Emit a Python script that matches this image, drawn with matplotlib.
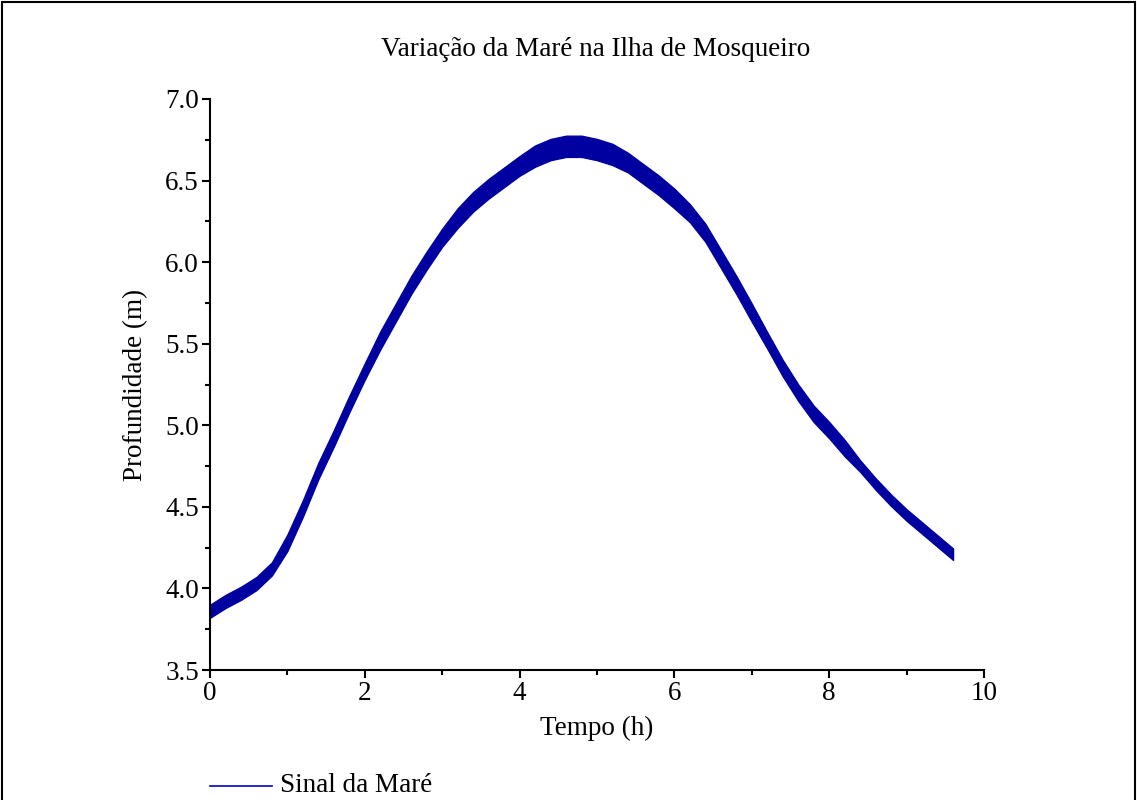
import matplotlib
matplotlib.use("Agg")
import matplotlib.pyplot as plt
from matplotlib.ticker import MultipleLocator, FormatStrFormatter
from matplotlib.lines import Line2D
from matplotlib.patches import Rectangle

plt.rcParams['font.family'] = ['Liberation Serif', 'DejaVu Serif']

# Data
tempo_h = [0.0, 0.2, 0.4, 0.6, 0.8, 1.0, 1.2, 1.4, 1.6, 1.8,
           2.0, 2.2, 2.4, 2.6, 2.8, 3.0, 3.2, 3.4, 3.6, 3.8,
           4.0, 4.2, 4.4, 4.6, 4.8, 5.0, 5.2, 5.4, 5.6, 5.8,
           6.0, 6.2, 6.4, 6.6, 6.8, 7.0, 7.2, 7.4, 7.6, 7.8,
           8.0, 8.2, 8.4, 8.6, 8.8, 9.0, 9.2, 9.4, 9.6]
profundidade_m = [3.86, 3.92, 3.97, 4.03, 4.12, 4.28, 4.49, 4.72, 4.92, 5.13,
                  5.33, 5.52, 5.69, 5.86, 6.01, 6.15, 6.27, 6.37, 6.45, 6.52,
                  6.59, 6.65, 6.69, 6.71, 6.71, 6.69, 6.66, 6.61, 6.54, 6.47,
                  6.39, 6.30, 6.18, 6.02, 5.86, 5.69, 5.52, 5.35, 5.20, 5.07,
                  4.97, 4.86, 4.75, 4.64, 4.54, 4.45, 4.37, 4.29, 4.21]
# full vertical thickness of the noisy band (m)
faixa_ruido_m = [0.08, 0.08, 0.08, 0.08, 0.08, 0.10, 0.10, 0.10, 0.10, 0.10,
                 0.10, 0.11, 0.11, 0.11, 0.11, 0.11, 0.12, 0.12, 0.12, 0.12,
                 0.12, 0.13, 0.13, 0.13, 0.13, 0.13, 0.13, 0.12, 0.12, 0.12,
                 0.12, 0.11, 0.11, 0.11, 0.11, 0.11, 0.10, 0.10, 0.10, 0.10,
                 0.10, 0.10, 0.07, 0.07, 0.07, 0.07, 0.07, 0.07, 0.07]

titulo = "Variação da Maré na Ilha de Mosqueiro"
rotulo_x = "Tempo (h)"
rotulo_y = "Profundidade (m)"
legenda = "Sinal da Maré"

cor = '#0000A0'
fs = 19.5

fig = plt.figure(figsize=(11.37, 8.0), dpi=100)
ax = fig.add_axes([210/1137, 1 - 670/800, (984-210)/1137, (670-99)/800])

inferior = [p - w/2 for p, w in zip(profundidade_m, faixa_ruido_m)]
superior = [p + w/2 for p, w in zip(profundidade_m, faixa_ruido_m)]
ax.fill_between(tempo_h, inferior, superior, color=cor, linewidth=1.0, edgecolor=cor)
ax.plot(tempo_h, profundidade_m, color=cor, linewidth=1.0, label=legenda)

ax.set_xlim(0, 10)
ax.set_ylim(3.5, 7.0)
ax.xaxis.set_major_locator(MultipleLocator(2))
ax.xaxis.set_minor_locator(MultipleLocator(1))
ax.yaxis.set_major_locator(MultipleLocator(0.5))
ax.yaxis.set_minor_locator(MultipleLocator(0.25))
ax.yaxis.set_major_formatter(FormatStrFormatter('%.1f'))

for s in ['top', 'right']:
    ax.spines[s].set_visible(False)
for s in ['left', 'bottom']:
    ax.spines[s].set_linewidth(1.5)
ax.tick_params(which='major', direction='out', length=6, width=1.5, labelsize=fs, pad=2)
ax.tick_params(which='minor', direction='out', length=3.5, width=1.5)

ax.set_xlabel(rotulo_x, fontsize=fs, labelpad=7)
ax.set_ylabel(rotulo_y, fontsize=fs, labelpad=12)
fig.text(596/1137, 1 - 49/800, titulo, ha='center', va='center', fontsize=fs)

# legend placed below the axes, like the reference
fig.add_artist(Line2D([210/1137, 272/1137], [1 - 786/800, 1 - 786/800],
                      transform=fig.transFigure, color='#0000CC', linewidth=1.2))
fig.text(280/1137, 1 - 798/800, legenda, ha='left', va='bottom', fontsize=fs)

# figure frame (bottom edge lies outside the picture, as in the reference)
fig.patches.append(Rectangle((0.002, -0.01), 0.996, 1.008, transform=fig.transFigure,
                             fill=False, edgecolor='black', linewidth=1.5))

fig.savefig("out.png", dpi=100)
